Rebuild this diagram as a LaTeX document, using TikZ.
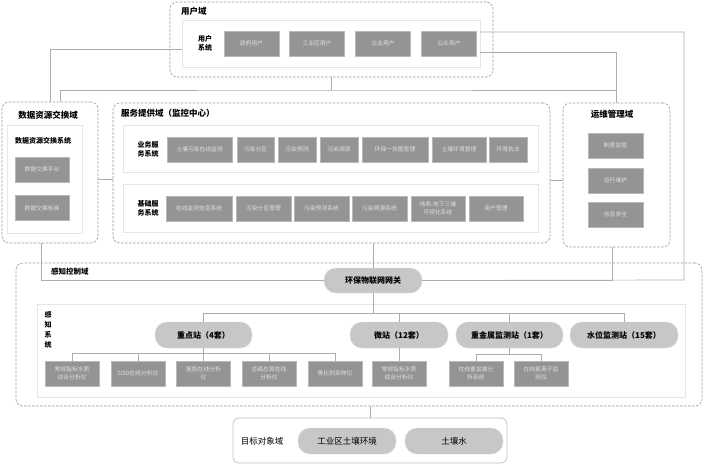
\documentclass[tikz,border=0pt]{standalone}
\usepackage{fontspec}
\setmainfont{Noto Sans CJK SC}
\usepackage{tikz}
\usetikzlibrary{positioning,calc}
\usepackage{xcolor}

\tikzset{
  zonebox/.style={draw=black!40, dash pattern=on 2.5pt off 1.5pt, line width=0.6pt, rounded corners=7pt, inner sep=0pt},
  sysbox/.style={draw=black!10, line width=0.8pt, fill=white, inner sep=0pt},
  itembox/.style={fill=black!42, draw=black!28, line width=0.4pt, text=white!88!black, minimum height=25pt, inner sep=1pt, align=center, font=\fontsize{5.8}{7.5}\selectfont},
  pill/.style={fill=black!22, draw=black!14, rounded corners=12pt, minimum height=26pt, inner sep=1pt, font=\fontsize{8}{9}\selectfont\bfseries},
  zonetitle/.style={inner sep=0pt, font=\fontsize{8.5}{10}\selectfont\bfseries},
  lbl/.style={inner sep=0pt, align=center, font=\fontsize{7}{9}\selectfont\bfseries},
  conn/.style={draw=black!32, line width=0.7pt}
}

\begin{document}
\begin{tikzpicture}[x=1pt,y=-1pt]
\useasboundingbox (0,0) rectangle (708,464);

\node[zonebox, minimum width=323, minimum height=75] (ud) at (331.5,39.5) {};
\node[zonetitle, anchor=west] (ud-t) at (181,11) {用户域};
\node[sysbox, minimum width=298, minimum height=47] (usys) at (331,43.5) {};
\node[lbl] (usys-t) at (205,43.5) {用户\\系统};
\node[itembox, minimum width=55] (u1) at (251.5,43.5) {政府用户};
\node[itembox, minimum width=55] (u2) at (317,43.5) {工业区用户};
\node[itembox, minimum width=55] (u3) at (383,43.5) {企业用户};
\node[itembox, minimum width=55] (u4) at (449,43.5) {公众用户};

\node[zonebox, minimum width=96, minimum height=141] (dex) at (50,172.5) {};
\node[zonetitle] (dex-t) at (48,115) {数据资源交换域};
\node[sysbox, minimum width=75, minimum height=108] (dsys) at (44.5,179) {};
\node[lbl] (dsys-t) at (43,141) {数据资源交换系统};
\node[itembox, minimum width=54] (d1) at (42,169.5) {数据交换平台};
\node[itembox, minimum width=54] (d2) at (42,208) {数据交换标准};

\node[zonebox, minimum width=437, minimum height=140] (svc) at (331.5,173) {};
\node[zonetitle, anchor=west] (svc-t) at (121,113) {服务提供域（监控中心）};
\node[sysbox, minimum width=415, minimum height=47] (bsys) at (330.5,148.5) {};
\node[lbl] (bsys-t) at (148,149) {业务服\\务系统};
\node[itembox, minimum width=65] (s1) at (199.5,149.5) {土壤污染在线监测};
\node[itembox, minimum width=37] (s2) at (255.5,149.5) {污染分区};
\node[itembox, minimum width=38] (s3) at (297,149.5) {污染预测};
\node[itembox, minimum width=38] (s4) at (339,149.5) {污染溯源};
\node[itembox, minimum width=66] (s5) at (395,149.5) {环保一张图管理};
\node[itembox, minimum width=54] (s6) at (459,149.5) {土壤环境管理};
\node[itembox, minimum width=38] (s7) at (508,149.5) {环境执法};
\node[sysbox, minimum width=415, minimum height=48] (jsys) at (330.5,208) {};
\node[lbl] (jsys-t) at (148,208.5) {基础服\\务系统};
\node[itembox, minimum width=66] (j1) at (199,208.5) {在线监测信息系统};
\node[itembox, minimum width=55] (j2) at (263.5,208.5) {污染分区管理};
\node[itembox, minimum width=55] (j3) at (321.5,208.5) {污染预测系统};
\node[itembox, minimum width=55] (j4) at (379.5,208.5) {污染溯源系统};
\node[itembox, minimum width=54] (j5) at (438,208.5) {地表-地下三维\\可视化系统};
\node[itembox, minimum width=54] (j6) at (496,208.5) {用户管理};

\node[zonebox, minimum width=107, minimum height=144] (ops) at (616.5,175) {};
\node[zonetitle] (ops-t) at (612,114) {运维管理域};
\node[itembox, minimum width=55] (o1) at (615.5,145.5) {制度监管};
\node[itembox, minimum width=55] (o2) at (615.5,180.5) {运行维护};
\node[itembox, minimum width=55] (o3) at (615.5,214.5) {信息安全};

\node[zonebox, minimum width=686, minimum height=143] (pd) at (359,334.5) {};
\node[zonetitle, anchor=west, font=\fontsize{7.5}{9}\selectfont\bfseries] (pd-t) at (51,272) {感知控制域};
\node[pill, minimum width=98, minimum height=25] (gw) at (373,280.5) {环保物联网网关};
\node[sysbox, minimum width=648, minimum height=93] (psys) at (361,350.5) {};
\node[lbl, font=\fontsize{7}{10}\selectfont\bfseries] (psys-t) at (48,330) {感\\知\\系\\统};
\node[pill, minimum width=97] (p1) at (203.5,335) {重点站（4套）};
\node[pill, minimum width=98] (p2) at (399,335) {微站（12套）};
\node[pill, minimum width=107] (p3) at (509.5,335) {重金属监测站（1套）};
\node[pill, minimum width=108] (p4) at (624,335) {水位监测站（15套）};
\node[itembox, minimum width=54] (a1) at (72,373.5) {常规指标水质\\综合分析仪};
\node[itembox, minimum width=54] (a2) at (138,373.5) {COD在线分析仪};
\node[itembox, minimum width=54] (a3) at (203.5,373.5) {氨氮在线分析\\仪};
\node[itembox, minimum width=54] (a4) at (269,373.5) {总磷总氮在线\\分析仪};
\node[itembox, minimum width=54] (a5) at (335,373.5) {等比例采样仪};
\node[itembox, minimum width=54] (w1) at (399,373.5) {常规指标水质\\综合分析仪};
\node[itembox, minimum width=54] (h1) at (476,373.5) {在线重金属分\\析系统};
\node[itembox, minimum width=54] (h2) at (541,373.5) {在线氟离子监\\测仪};

\node[draw=black!25, line width=0.7pt, rounded corners=6pt, minimum width=274, minimum height=45, inner sep=0pt] (tg) at (370,440.5) {};
\node[inner sep=0pt, font=\fontsize{8.5}{10}\selectfont] (tg-t) at (262,441) {目标对象域};
\node[pill, minimum width=98, font=\fontsize{8.5}{10}\selectfont] (g1) at (347,441) {工业区土壤环境};
\node[pill, minimum width=98, font=\fontsize{8.5}{10}\selectfont] (g2) at (454,441) {土壤水};

\coordinate (bus) at (331.5,90);
\coordinate (gwr) at (684,280);
\coordinate (pb) at (373,313);
\coordinate (k1) at (203.5,353);
\coordinate (k3) at (509.5,354);
\coordinate (l1) at ([yshift=-7pt]dex.east);
\coordinate (l2) at ([yshift=-7pt]svc.east);

\draw[conn] ([yshift=-5.5pt]usys.west) -| (dex.north);
\draw[conn] (ud.south) -- (bus);
\draw[conn] ([xshift=10pt]dex.north) |- (bus) -| (ops.north);
\draw[conn] ([yshift=-8.5pt]usys.east) -| (ops.north);
\draw[conn] ([yshift=11.5pt]usys.east) -| (gwr) -- (gw.east);
\draw[conn] (l1) -- (l1 -| svc.west);
\draw[conn] (l2) -- (l2 -| ops.west);
\draw[conn] ([xshift=-9pt]dex.south) |- (gw.west);
\draw[conn] (svc.south -| gw.north) -- (gw.north);
\draw[conn] ([xshift=-4pt]ops.south) |- (gw.east);

\draw[conn] (gw.south) -- (pb);
\foreach \p in {p1,p2,p3,p4}
  \draw[conn] (\p.north) |- (pb);
\draw[conn] (p1.south) -- (k1);
\foreach \a in {a1,a2,a3,a4,a5}
  \draw[conn] (\a.north) |- (k1);
\draw[conn] (p2.south) -- (w1.north);
\draw[conn] (p3.south) -- (k3);
\draw[conn] (h1.north) |- (k3);
\draw[conn] (h2.north) |- (k3);
\draw[conn] (tg.north) -- (tg.north |- pd.south);

\end{tikzpicture}
\end{document}
